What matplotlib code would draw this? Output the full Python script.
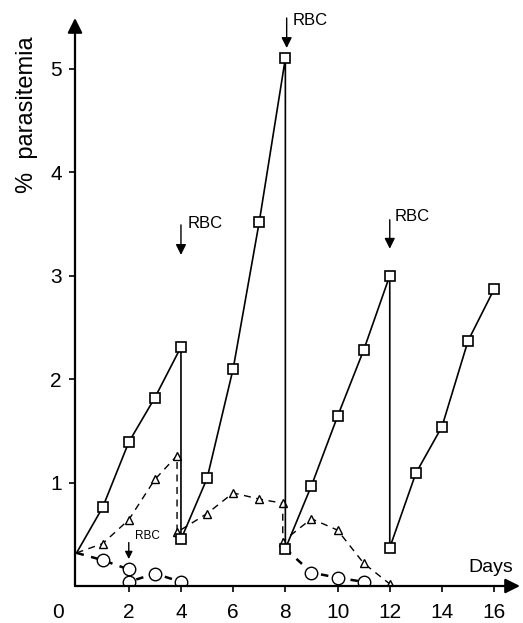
import matplotlib
matplotlib.use("Agg")
import matplotlib.pyplot as plt
import numpy as np

plt.rcParams['font.family'] = ['Liberation Sans', 'DejaVu Sans']

# Squares (solid line) with RBC drops at day 4, 8, 12
sq_days = [0, 1, 2, 3, 4, 4, 5, 6, 7, 8, 8, 9, 10, 11, 12, 12, 13, 14, 15, 16]
sq_vals = [0.32, 0.76, 1.39, 1.82, 2.31, 0.45, 1.04, 2.10, 3.52, 5.10,
           0.36, 0.97, 1.64, 2.28, 3.00, 0.37, 1.09, 1.54, 2.37, 2.87]

# Triangles (thin dashed line)
tr_days = [0, 1, 2, 3, 3.85, 3.85, 5, 6, 7, 7.9, 7.9, 9, 10, 11, 12]
tr_vals = [0.32, 0.41, 0.64, 1.03, 1.26, 0.52, 0.70, 0.90, 0.84, 0.80,
           0.43, 0.65, 0.54, 0.22, 0.02]

# Circles (thick dashed line), two segments
ci1_days = [0, 1, 2, 2, 3, 4]
ci1_vals = [0.32, 0.25, 0.16, 0.04, 0.12, 0.04]
ci2_days = [8, 9, 10, 11]
ci2_vals = [0.36, 0.13, 0.08, 0.04]

xticks = [2, 4, 6, 8, 10, 12, 14, 16]
yticks = [1, 2, 3, 4, 5]

# RBC annotations: (day, arrow top, arrow bottom, text x, text y, fontsize)
rbc_marks = [
    (4, 3.49, 3.20, 4.27, 3.50, 12),
    (8.05, 5.49, 5.20, 8.28, 5.47, 12),
    (12, 3.54, 3.26, 12.2, 3.57, 12),
    (2, 0.42, 0.26, 2.24, 0.48, 8.5),
]

W, H = 523, 623
fig = plt.figure(figsize=(W / 100, H / 100), dpi=100)
x0, x1, y0, y1 = 75, 520, 586, 18
ax = fig.add_axes([x0 / W, (H - y0) / H, (x1 - x0) / W, (y0 - y1) / H])
ax.set_xlim(-0.06, 16.99)
ax.set_ylim(0, 5.49)

for s in ax.spines.values():
    s.set_visible(False)

# axes arrows
ax.annotate('', xy=(1, 0), xytext=(0, 0), xycoords='axes fraction',
            arrowprops=dict(arrowstyle='-|>', lw=1.6, color='k',
                            mutation_scale=22, shrinkA=0, shrinkB=0))
ax.annotate('', xy=(0, 1), xytext=(0, 0), xycoords='axes fraction',
            arrowprops=dict(arrowstyle='-|>', lw=1.6, color='k',
                            mutation_scale=22, shrinkA=0, shrinkB=0))

ax.plot(tr_days, tr_vals, color='k', lw=1.0, ls=(0, (5, 4)),
        marker='^', ms=6, mfc='white', mec='k', mew=1.0,
        markevery=list(range(1, len(tr_days))), zorder=2)
ax.plot(ci1_days, ci1_vals, color='k', lw=1.8, ls=(0, (3, 3)),
        marker='o', ms=9, mfc='white', mec='k', mew=1.0,
        markevery=list(range(1, len(ci1_days))), zorder=2)
ax.plot(ci2_days, ci2_vals, color='k', lw=1.8, ls=(0, (3, 3)),
        marker='o', ms=9, mfc='white', mec='k', mew=1.0,
        markevery=list(range(1, len(ci2_days))), zorder=2)
ax.plot(sq_days, sq_vals, color='k', lw=1.2, ls='-',
        marker='s', ms=7.5, mfc='white', mec='k', mew=1.2,
        markevery=list(range(1, len(sq_days))), zorder=3)

for d, ytop, ybot, tx, ty, fs in rbc_marks:
    ax.annotate('', xy=(d, ybot), xytext=(d, ytop),
                arrowprops=dict(arrowstyle='-|>', lw=1.0, color='k',
                                mutation_scale=fs * 1.3, shrinkA=0, shrinkB=0))
    ax.text(tx, ty, 'RBC', fontsize=fs, ha='left', va='center')

ax.set_xticks(xticks)
ax.set_xticklabels([str(t) for t in xticks])
ax.set_yticks(yticks)
ax.set_yticklabels([str(t) for t in yticks])
ax.tick_params(axis='both', direction='out', length=4, width=1.2, labelsize=15)
ax.tick_params(axis='x', pad=8)
ax.tick_params(axis='y', pad=5.5)

ax.text(-0.7, -0.26, '0', fontsize=15, ha='center', va='center', clip_on=False)
ax.text(15.0, 0.18, 'Days', fontsize=14, ha='left', va='center')

fig.text(27 / W, 1 - 115 / H, '%  parasitemia', rotation=90, fontsize=17,
         ha='center', va='center')

fig.savefig('out.png', dpi=100)
